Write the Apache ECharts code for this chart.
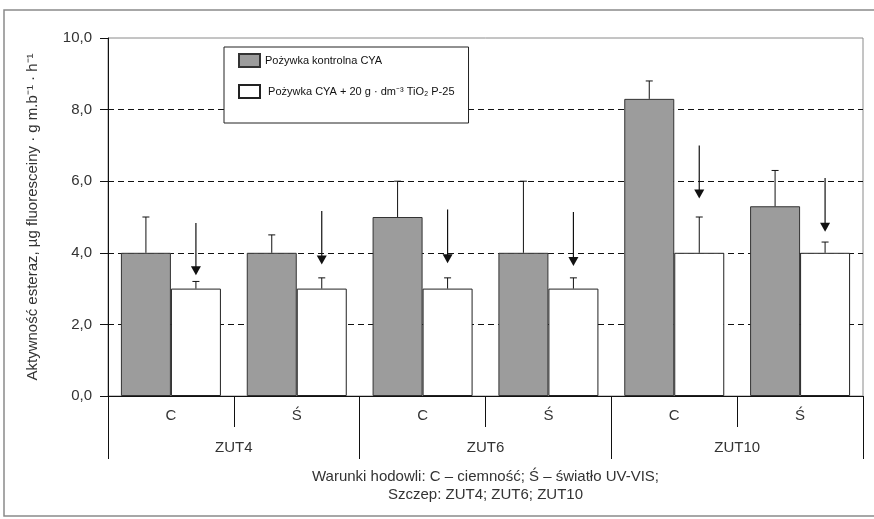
<!DOCTYPE html>
<html>
<head>
<meta charset="utf-8">
<script src="https://cdn.jsdelivr.net/npm/echarts@6/dist/echarts.min.js"></script>
<style>
  html, body { margin: 0; padding: 0; background: #fff; }
  #chart { width: 874px; height: 519px; }
</style>
</head>
<body>
<div id="chart"></div>
<script>
// conditions (C - dark, Ś - UV-VIS light), grouped by strain
var conditions = ['C', 'Ś', 'C', 'Ś', 'C', 'Ś'];
var strains = ['ZUT4', 'ZUT6', 'ZUT10'];
var yTicks = [0, 2, 4, 6, 8, 10];

// control medium CYA
var controlValues = [4.0, 4.0, 5.0, 4.0, 8.3, 5.3];
var controlErrTop = [5.0, 4.5, 6.0, 6.0, 8.8, 6.3];

// CYA + 20 g/dm3 TiO2 P-25
var tioValues = [3.0, 3.0, 3.0, 3.0, 4.0, 4.0];
var tioErrTop = [3.2, 3.3, 3.3, 3.3, 5.0, 4.3];

// arrows above TiO2 bars: [start, tip]
var arrowStart = [4.83, 5.17, 5.21, 5.14, 7.0, 6.09];
var arrowTip = [3.37, 3.67, 3.71, 3.63, 5.52, 4.59];

var names = ['Pożywka kontrolna CYA', ' Pożywka CYA + 20 g · dm⁻³ TiO₂ P-25'];

var BAR_W = 50;
var font = '"Liberation Sans", Arial, sans-serif';

var chart = echarts.init(document.getElementById('chart'));

function errorItem(sign) {
  return function (params, api) {
    var i = api.value(0);
    var base = api.coord([i, api.value(1)]);
    var top = api.coord([i, api.value(2)]);
    var x = base[0] + sign * BAR_W / 2;
    var st = { stroke: '#111', lineWidth: 1 };
    return {
      type: 'group',
      children: [
        { type: 'line', shape: { x1: x, y1: base[1], x2: x, y2: top[1] }, style: st },
        { type: 'line', shape: { x1: x - 3.5, y1: top[1], x2: x + 3.5, y2: top[1] }, style: st }
      ]
    };
  };
}

function arrowItem(params, api) {
  var i = api.value(0);
  var s = api.coord([i, api.value(1)]);
  var t = api.coord([i, api.value(2)]);
  var x = s[0] + BAR_W / 2;
  return {
    type: 'group',
    children: [
      { type: 'line', shape: { x1: x, y1: s[1], x2: x, y2: t[1] - 6 }, style: { stroke: '#111', lineWidth: 1.2 } },
      { type: 'polygon', shape: { points: [[x - 5, t[1] - 9], [x + 5, t[1] - 9], [x, t[1]]] }, style: { fill: '#111' } }
    ]
  };
}

var option = {
  backgroundColor: '#fff',
  animation: false,
  textStyle: { fontFamily: font },
  graphic: [{
    type: 'rect',
    shape: { x: 4, y: 10, width: 880, height: 506 },
    style: { fill: 'none', stroke: '#8a8a8a', lineWidth: 1.5 },
    silent: true
  }],
  grid: {
    left: 108, top: 38, right: 11, bottom: 123,
    show: true, borderColor: '#8a8a8a', borderWidth: 1
  },
  legend: {
    data: names,
    orient: 'vertical',
    left: 224, top: 47,
    icon: 'rect',
    itemWidth: 21, itemHeight: 13, itemGap: 16,
    padding: [6, 14, 24, 14],
    borderColor: '#222', borderWidth: 1,
    backgroundColor: '#fff',
    selectedMode: false,
    textStyle: { fontSize: 11, color: '#111', fontFamily: font }
  },
  xAxis: [{
    type: 'category',
    data: conditions,
    axisLine: { show: true, lineStyle: { color: '#111' } },
    axisTick: { show: true, interval: 0, length: 31, lineStyle: { color: '#111' } },
    axisLabel: { margin: 12, fontSize: 15, color: '#333', fontFamily: font }
  }, {
    type: 'category',
    data: strains,
    position: 'bottom',
    axisLine: { show: false },
    axisTick: { show: true, interval: 0, length: 63, lineStyle: { color: '#111' } },
    axisLabel: { margin: 44, fontSize: 15, color: '#333', fontFamily: font },
    name: 'Warunki hodowli: C – ciemność; Ś – światło UV-VIS;\nSzczep: ZUT4; ZUT6; ZUT10',
    nameLocation: 'middle',
    nameGap: 72,
    nameTextStyle: { fontSize: 15, lineHeight: 18, color: '#333', fontFamily: font }
  }],
  yAxis: {
    type: 'value',
    min: yTicks[0], max: yTicks[yTicks.length - 1], interval: 2,
    axisLine: { show: true, lineStyle: { color: '#111' } },
    axisTick: { show: true, length: 8, lineStyle: { color: '#111' } },
    axisLabel: {
      margin: 16, fontSize: 15, color: '#333', fontFamily: font,
      formatter: function (v) { return v.toFixed(1).replace('.', ','); }
    },
    splitLine: {
      lineStyle: { color: ['#111', '#111', '#111', '#111', '#111', 'transparent'], type: [6, 4], width: 1 }
    },
    name: 'Aktywność esteraz, µg fluoresceiny · g m.b⁻¹ · h⁻¹',
    nameLocation: 'middle',
    nameGap: 68,
    nameTextStyle: { fontSize: 15, color: '#333', fontFamily: font }
  },
  series: [{
    name: names[0],
    type: 'bar',
    data: controlValues,
    barWidth: BAR_W,
    barGap: '0%',
    itemStyle: { color: '#9c9c9c', borderColor: '#333', borderWidth: 1 }
  }, {
    name: names[1],
    type: 'bar',
    data: tioValues,
    barWidth: BAR_W,
    barGap: '0%',
    itemStyle: { color: '#fff', borderColor: '#222', borderWidth: 1 }
  }, {
    type: 'custom',
    renderItem: errorItem(-1),
    data: controlValues.map(function (v, i) { return [i, v, controlErrTop[i]]; }),
    z: 3
  }, {
    type: 'custom',
    renderItem: errorItem(1),
    data: tioValues.map(function (v, i) { return [i, v, tioErrTop[i]]; }),
    z: 3
  }, {
    type: 'custom',
    renderItem: arrowItem,
    data: arrowStart.map(function (v, i) { return [i, v, arrowTip[i]]; }),
    z: 3
  }]
};

chart.setOption(option);
</script>
</body>
</html>
